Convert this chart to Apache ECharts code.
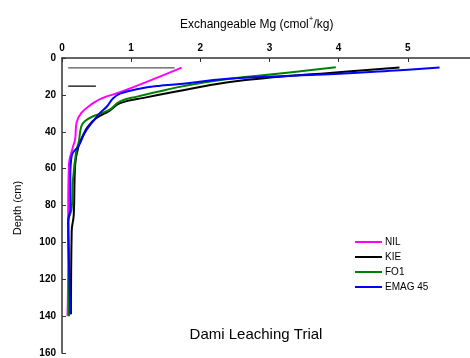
<!DOCTYPE html>
<html>
<head>
<meta charset="utf-8">
<script src="https://cdn.jsdelivr.net/npm/echarts@6/dist/echarts.min.js"></script>
<style>
html,body{margin:0;padding:0;background:#fff;}
#chart{width:470px;height:358px;}
</style>
</head>
<body>
<div id="chart"></div>
<script>
// Exchangeable Mg (cmol+/kg) against soil depth (cm) for each treatment
const seriesNames = ['NIL', 'KIE', 'FO1', 'EMAG 45'];
const seriesColors = ['#ff00ff', '#000000', '#008000', '#0000ff'];

const nil = [
  [1.73, 5.2], [0.84, 18.6], [0.60, 21.5], [0.45, 24.5], [0.28, 29.8], [0.21, 35.2],
  [0.19, 44], [0.16, 48], [0.10, 58], [0.09, 80], [0.09, 110], [0.08, 140]
];
const kie = [
  [4.88, 5.2], [3.87, 8.1], [3.15, 10.2], [2.40, 13.1], [1.63, 18.3], [1.20, 21.5],
  [0.84, 24.5], [0.69, 28.5], [0.50, 32.5], [0.38, 37], [0.31, 41.5], [0.24, 47.7],
  [0.19, 58], [0.17, 85], [0.14, 94], [0.13, 139]
];
const fo1 = [
  [3.96, 5.0], [3.15, 8.4], [2.40, 11.4], [1.97, 13.8], [1.63, 16.2], [1.42, 18.0],
  [1.10, 20.8], [0.84, 23.5], [0.69, 28], [0.45, 31.6], [0.33, 34.3], [0.28, 37],
  [0.24, 45.9], [0.21, 49.5], [0.16, 65.5], [0.14, 81.6], [0.09, 88.6], [0.10, 110], [0.10, 140]
];
const emag = [
  [5.46, 5.2], [4.88, 6.6], [3.87, 8.8], [3.15, 9.9], [2.40, 11.3], [1.63, 14.4],
  [1.42, 15.0], [1.10, 16.8], [0.84, 19.3], [0.74, 21.8], [0.65, 26.3], [0.55, 29.8],
  [0.43, 35.2], [0.33, 40.5], [0.24, 47.7], [0.14, 53], [0.12, 64], [0.12, 81.6],
  [0.09, 88.6], [0.10, 110], [0.12, 139]
];
const seriesData = [nil, kie, fo1, emag];

// Short reference bars near the surface
const barTop = [[0.09, 5.4], [1.63, 5.4]];
const barLower = [[0.09, 15.2], [0.49, 15.2]];

const xTicks = [0, 1, 2, 3, 4, 5];
const yTicks = [0, 20, 40, 60, 80, 100, 120, 140, 160];

const font = 'Liberation Sans, Arial, sans-serif';
const chart = echarts.init(document.getElementById('chart'));

const lineSeries = seriesNames.map((name, i) => ({
  name: name,
  type: 'line',
  data: seriesData[i],
  smooth: 0.45,
  showSymbol: false,
  lineStyle: { color: seriesColors[i], width: 2 },
  itemStyle: { color: seriesColors[i] },
  z: 3 + i
}));

chart.setOption({
  animation: false,
  backgroundColor: '#ffffff',
  grid: { left: 62, top: 58, right: 0, bottom: 2, containLabel: false },
  graphic: [
    {
      type: 'text', x: 180, y: 15,
      style: {
        text: '{a|Exchangeable Mg (cmol}{s|+}{a|/kg)}',
        rich: {
          a: { fontSize: 12, fontFamily: font, fill: '#000', verticalAlign: 'bottom' },
          s: { fontSize: 8, fontFamily: font, fill: '#000', padding: [0, 0, 8, 0] }
        }
      }
    },
    {
      type: 'text', x: 18, y: 208, rotation: Math.PI / 2,
      style: { text: 'Depth (cm)', fontSize: 11, fontFamily: font, fill: '#000', align: 'center', verticalAlign: 'middle' }
    },
    {
      type: 'text', x: 256, y: 335,
      style: { text: 'Dami Leaching Trial', fontSize: 15, fontFamily: font, fill: '#000', align: 'center', verticalAlign: 'middle' }
    }
  ],
  legend: {
    data: seriesNames,
    orient: 'vertical',
    left: 350, top: 232,
    itemWidth: 27, itemHeight: 2, itemGap: 5,
    icon: 'rect',
    textStyle: { fontSize: 10, fontFamily: font, color: '#000', padding: [0, 0, 0, -2] }
  },
  xAxis: {
    type: 'value', position: 'top', min: 0, max: 5.9, interval: 1,
    axisLine: { show: true, onZero: false, lineStyle: { color: '#333', width: 1.5 } },
    axisTick: { show: true, inside: true, length: 4, lineStyle: { color: '#333' } },
    axisLabel: {
      fontSize: 10, fontWeight: 'bold', fontFamily: font, color: '#000', margin: 5,
      showMaxLabel: false,
      formatter: v => xTicks.includes(v) ? String(v) : ''
    },
    splitLine: { show: false }
  },
  yAxis: {
    type: 'value', inverse: true, min: 0, max: 160, interval: 20,
    axisLine: { show: true, onZero: false, lineStyle: { color: '#333', width: 1.5 } },
    axisTick: { show: true, inside: true, length: 4, lineStyle: { color: '#333' } },
    axisLabel: {
      fontSize: 10, fontWeight: 'bold', fontFamily: font, color: '#000', margin: 6,
      formatter: v => yTicks.includes(v) ? String(v) : ''
    },
    splitLine: { show: false }
  },
  series: lineSeries.concat([
    {
      type: 'line', data: barTop, showSymbol: false, silent: true,
      lineStyle: { color: '#555', width: 1.2 }, z: 2
    },
    {
      type: 'line', data: barLower, showSymbol: false, silent: true,
      lineStyle: { color: '#000', width: 1.2 }, z: 2
    }
  ])
});
</script>
</body>
</html>
